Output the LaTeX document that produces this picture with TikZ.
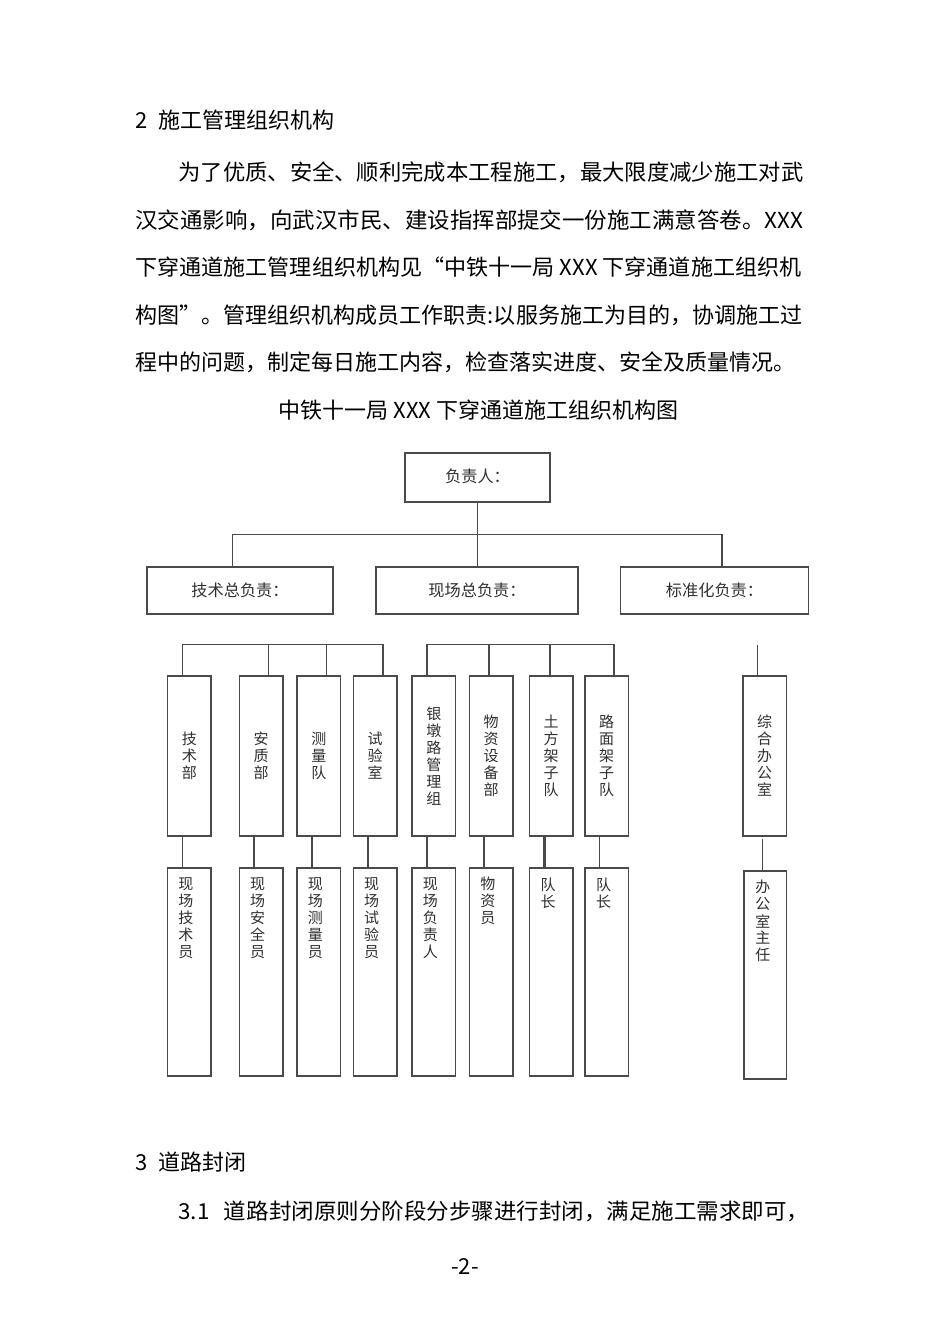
\documentclass[tikz,border=0pt]{standalone}
\usepackage{fontspec}
\usepackage{graphicx}
\setmainfont{Noto Sans CJK SC}
\definecolor{linec}{HTML}{4A4A4A}
\definecolor{textc}{HTML}{303030}
\newsavebox\fitbox
\newdimen\fitdim
\newcommand\fitto[2]{\sbox\fitbox{#2}\fitdim=\wd\fitbox\pgfmathsetmacro\fitsx{#1/\fitdim}\scalebox{\fitsx}[1]{\usebox\fitbox}}
\newcommand\chartfont{\fontsize{7.5}{8.5}\selectfont}
\newcommand\headfont{\fontsize{8.1}{9}\selectfont}
\newcommand\bodyfont{\fontsize{11}{13}\selectfont}
\begin{document}
\begin{tikzpicture}[x=0.5pt,y=-0.5pt,
  ln/.style={draw=linec, line width=0.75pt},
  thk/.style={draw=linec, line width=1.3pt},
  cbox/.style={draw=linec, line width=0.75pt, inner sep=0pt, outer sep=0pt, font=\chartfont, text=textc, align=center},
  hbox/.style={cbox, font=\headfont},
  vbox/.style={cbox, minimum width=21.75pt, minimum height=80pt},
  wbox/.style={cbox, minimum width=21.75pt, minimum height=104pt},
  vlab/.style={inner sep=0pt, font=\chartfont, text=textc, align=center, anchor=north},
  body/.style={anchor=base west, inner sep=0pt, font=\bodyfont, text=black}]
\fill[white] (0,0) rectangle (950,1344);
\useasboundingbox (0,0) rectangle (950,1344);

% body text
\node[body] (h2) at (135,128.5) {2\hspace{5.5pt}施工管理组织机构};
\node[body] (p1) at (178,180.5) {\fitto{312.5pt}{为了优质、安全、顺利完成本工程施工，最大限度减少施工对武}};
\node[body] (p2) at (135,228) {\fitto{334pt}{汉交通影响，向武汉市民、建设指挥部提交一份施工满意答卷。XXX}};
\node[body] (p3) at (135,275.5) {\fitto{333pt}{下穿通道施工管理组织机构见“中铁十一局 XXX 下穿通道施工组织机}};
\node[body] (p4) at (135,323) {\fitto{333.5pt}{构图”。管理组织机构成员工作职责:以服务施工为目的，协调施工过}};
\node[body] (p5) at (135,370.5) {程中的问题，制定每日施工内容，检查落实进度、安全及质量情况。};
\node[body, anchor=base] (ttl) at (478.5,418.5) {中铁十一局 XXX 下穿通道施工组织机构图};
\node[body] (h3) at (135,1170) {3\hspace{5.5pt}道路封闭};
\node[body] (p6) at (178,1219) {\fitto{315.5pt}{3.1\hspace{7pt}道路封闭原则分阶段分步骤进行封闭，满足施工需求即可，}};
\node[body, anchor=base] (pg) at (465,1274) {-2-};

% level 1 and 2
\node[hbox, minimum width=72.5pt, minimum height=24.5pt] (top) at (477.5,477.5) {\raisebox{1.5pt}{负责人：}};
\node[hbox, minimum width=93pt, minimum height=23.5pt] (lA) at (240,590.5) {技术总负责：};
\node[hbox, minimum width=101pt, minimum height=23.5pt] (lB) at (477,590.5) {现场总负责：};
\node[hbox, minimum width=94pt, minimum height=23.5pt] (lC) at (714.5,590.5) {标准化负责：};

% level 3
\node[vbox] (d1) at (189.3,756) {技\\术\\部};
\node[vbox] (d2) at (261,756) {安\\质\\部};
\node[vbox] (d3) at (318.8,756) {测\\量\\队};
\node[vbox] (d4) at (375,756) {试\\验\\室};
\node[vbox] (d5) at (433.8,756) {银\\墩\\路\\管\\理\\组};
\node[vbox] (d6) at (491.2,756) {物\\资\\设\\备\\部};
\node[vbox] (d7) at (551.2,756) {土\\方\\架\\子\\队};
\node[vbox] (d8) at (606.5,756) {路\\面\\架\\子\\队};
\node[vbox] (d9) at (764.7,756) {综\\合\\办\\公\\室};

% level 4
\node[wbox] (e1) at (189.3,972) {};
\node[wbox] (e2) at (261,972) {};
\node[wbox] (e3) at (318.8,972) {};
\node[wbox] (e4) at (375,972) {};
\node[wbox] (e5) at (433.8,972) {};
\node[wbox] (e6) at (491.2,972) {};
\node[wbox] (e7) at (551.2,972) {};
\node[wbox] (e8) at (606.5,972) {};
\node[wbox, minimum width=21.35pt] (e9) at (765.3,975) {};

\node[vlab] (t1) at ([xshift=-1.7pt,yshift=-4.4pt]e1.north) {现\\场\\技\\术\\员};
\node[vlab] (t2) at ([xshift=-1.7pt,yshift=-4.4pt]e2.north) {现\\场\\安\\全\\员};
\node[vlab] (t3) at ([xshift=-1.7pt,yshift=-4.4pt]e3.north) {现\\场\\测\\量\\员};
\node[vlab] (t4) at ([xshift=-1.7pt,yshift=-4.4pt]e4.north) {现\\场\\试\\验\\员};
\node[vlab] (t5) at ([xshift=-1.7pt,yshift=-4.4pt]e5.north) {现\\场\\负\\责\\人};
\node[vlab] (t6) at ([xshift=-1.7pt,yshift=-4.4pt]e6.north) {物\\资\\员};
\node[vlab] (t7) at ([xshift=-1.5pt,yshift=-4.6pt]e7.north) {队\\长};
\node[vlab] (t8) at ([xshift=-1.5pt,yshift=-4.6pt]e8.north) {队\\长};
\node[vlab] (t9) at ([xshift=-1.2pt,yshift=-4.5pt]e9.north) {办\\公\\室\\主\\任};

% connectors level 1-2
\coordinate (bus) at (477,534.5);
\draw[ln] (top.south) -- (top.south |- lB.north);
\draw[ln] ([xshift=-3.65pt]lA.north) |- (bus) -| ([xshift=3.75pt]lC.north);

% brackets level 3
\coordinate (br) at (0,644.5);
\draw[ln] ([xshift=-3.5pt]d1.north) |- ([xshift=3.9pt]d4.north |- br) -- ([xshift=3.9pt]d4.north);
\draw[ln] ([xshift=3.65pt]d2.north) -- ([xshift=3.65pt]d2.north |- br);
\draw[ln] ([xshift=3.8pt]d3.north) -- ([xshift=3.8pt]d3.north |- br);
\draw[ln] ([xshift=-3.5pt]d5.north) |- ([xshift=3.75pt]d8.north |- br) -- ([xshift=3.75pt]d8.north);
\draw[ln] ([xshift=-1pt]d6.north) -- ([xshift=-1pt]d6.north |- br);
\draw[ln] ([xshift=-0.6pt]d7.north) -- ([xshift=-0.6pt]d7.north |- br);
\draw[ln] ([xshift=-3.6pt]d9.north) -- ([xshift=-3.6pt]d9.north |- br);

% connectors level 3-4
\foreach \i in {1,2,3,4,5,6,8}{
  \draw[ln] ([xshift=-3.5pt]d\i.south) -- ([xshift=-3.5pt]e\i.north);
}
\draw[thk] ([xshift=-3.5pt]d7.south) -- ([xshift=-3.5pt]e7.north);
\draw[ln] ([xshift=-1pt,yshift=-1.5pt]d9.south) -- ([xshift=-1pt]d9.south |- e9.north);

% heavier edges
\draw[thk] (top.south west) -- (top.south east) -- (top.north east);
\draw[thk] (d7.north east) -- (d7.south east);
\draw[thk] (e7.north east) -- (e7.south east);
\draw[thk] (e9.north west) -- (e9.north east);
\end{tikzpicture}
\end{document}
